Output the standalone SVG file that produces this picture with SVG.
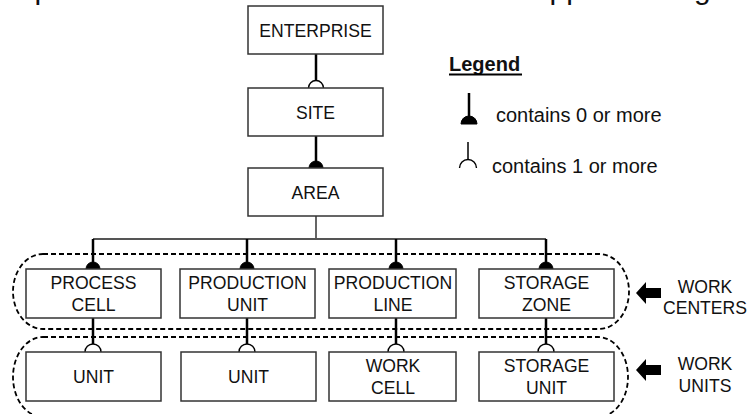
<svg xmlns="http://www.w3.org/2000/svg" width="749" height="414" viewBox="0 0 749 414">
  <style>
    .box { fill: #fff; stroke: #333; stroke-width: 1.5; }
    .lbl { font-family: "Liberation Sans", Arial, sans-serif; font-size: 17.6px; fill: #111; text-anchor: middle; }
    .leg { font-family: "Liberation Sans", Arial, sans-serif; font-size: 20px; fill: #111; }
    .link { stroke: #000; stroke-width: 2.5; fill: none; }
    .bus { stroke: #555; stroke-width: 1.8; fill: none; }
    .open { fill: #fff; stroke: #000; stroke-width: 1.4; }
    .solid { fill: #000; stroke: #000; stroke-width: 1; }
    .group { fill: none; stroke: #000; stroke-width: 1.8; stroke-dasharray: 5 3; }
    .blk { fill: #000; }
  </style>

  <!-- caption line running off the top edge -->
  <text font-family="Liberation Sans, Arial, sans-serif" font-size="30" fill="#111" y="-1"><tspan x="34.6">p</tspan><tspan x="549.6">pp</tspan><tspan x="694">g</tspan></text>

  <!-- connectors -->
  <g id="connectors">
    <!-- enterprise -> site (1 or more) -->
    <line class="link" x1="316" y1="54" x2="316" y2="81"/>
    <path class="open" d="M308.5,88 A7.5,7.5 0 0 1 323.5,88"/>
    <!-- site -> area (0 or more) -->
    <line class="link" x1="316" y1="136" x2="316" y2="162"/>
    <path class="solid" d="M309,168 A7,7 0 0 1 323,168 Z"/>
    <!-- area -> bus -->
    <line class="bus" x1="316" y1="216" x2="316" y2="239"/>
    <line class="bus" x1="93" y1="239" x2="546" y2="239"/>
    <!-- bus -> work centers (0 or more) -->
    <g>
      <line class="link" x1="93" y1="239" x2="93" y2="263"/>
      <path class="solid" d="M86,269 A7,7 0 0 1 100,269 Z"/>
      <line class="link" x1="247" y1="239" x2="247" y2="263"/>
      <path class="solid" d="M240,269 A7,7 0 0 1 254,269 Z"/>
      <line class="link" x1="396" y1="239" x2="396" y2="263"/>
      <path class="solid" d="M389,269 A7,7 0 0 1 403,269 Z"/>
      <line class="link" x1="546" y1="239" x2="546" y2="263"/>
      <path class="solid" d="M539,269 A7,7 0 0 1 553,269 Z"/>
    </g>
    <!-- work centers -> work units (1 or more) -->
    <g>
      <line class="link" x1="93" y1="318" x2="93" y2="344"/>
      <path class="open" d="M85,352 A8,8 0 0 1 101,352"/>
      <line class="link" x1="247" y1="318" x2="247" y2="344"/>
      <path class="open" d="M239,352 A8,8 0 0 1 255,352"/>
      <line class="link" x1="396" y1="318" x2="396" y2="344"/>
      <path class="open" d="M388,352 A8,8 0 0 1 404,352"/>
      <line class="link" x1="546" y1="318" x2="546" y2="344"/>
      <path class="open" d="M538,352 A8,8 0 0 1 554,352"/>
    </g>
  </g>

  <!-- dashed groupings -->
  <rect class="group" x="13" y="254" width="616" height="75" rx="30" ry="37.5"/>
  <rect class="group" x="13" y="337" width="615" height="80" rx="30" ry="40"/>

  <!-- hierarchy nodes -->
  <g id="enterprise">
    <rect class="box" x="248" y="6" width="135" height="48"/>
    <text class="lbl" x="315.5" y="37">ENTERPRISE</text>
  </g>
  <g id="site">
    <rect class="box" x="248" y="88" width="135" height="48"/>
    <text class="lbl" x="315.5" y="119">SITE</text>
  </g>
  <g id="area">
    <rect class="box" x="248" y="168" width="135" height="48"/>
    <text class="lbl" x="315.5" y="199">AREA</text>
  </g>

  <g id="process-cell">
    <rect class="box" x="26" y="269" width="135" height="49"/>
    <text class="lbl" x="93.5" y="289">PROCESS</text>
    <text class="lbl" x="93.5" y="311">CELL</text>
  </g>
  <g id="production-unit">
    <rect class="box" x="180" y="269" width="135" height="49"/>
    <text class="lbl" x="247.5" y="289">PRODUCTION</text>
    <text class="lbl" x="247.5" y="311">UNIT</text>
  </g>
  <g id="production-line">
    <rect class="box" x="329" y="269" width="127" height="49"/>
    <text class="lbl" x="393" y="289">PRODUCTION</text>
    <text class="lbl" x="393" y="311">LINE</text>
  </g>
  <g id="storage-zone">
    <rect class="box" x="479" y="269" width="135" height="49"/>
    <text class="lbl" x="546.5" y="289">STORAGE</text>
    <text class="lbl" x="546.5" y="311">ZONE</text>
  </g>

  <g id="unit-1">
    <rect class="box" x="26" y="352" width="135" height="49"/>
    <text class="lbl" x="93.5" y="383">UNIT</text>
  </g>
  <g id="unit-2">
    <rect class="box" x="181" y="352" width="135" height="49"/>
    <text class="lbl" x="248.5" y="383">UNIT</text>
  </g>
  <g id="work-cell">
    <rect class="box" x="329" y="352" width="127" height="49"/>
    <text class="lbl" x="393" y="372">WORK</text>
    <text class="lbl" x="393" y="394">CELL</text>
  </g>
  <g id="storage-unit">
    <rect class="box" x="479" y="352" width="135" height="49"/>
    <text class="lbl" x="546.5" y="372">STORAGE</text>
    <text class="lbl" x="546.5" y="394">UNIT</text>
  </g>

  <!-- level tags -->
  <g id="work-centers-tag">
    <polygon class="blk" points="636,293 646,282 646,288 661,288 661,298 646,298 646,304"/>
    <text class="lbl" x="705" y="293">WORK</text>
    <text class="lbl" x="705" y="314">CENTERS</text>
  </g>
  <g id="work-units-tag">
    <polygon class="blk" points="636,370 646,359 646,365 661,365 661,375 646,375 646,381"/>
    <text class="lbl" x="705" y="370">WORK</text>
    <text class="lbl" x="705" y="392">UNITS</text>
  </g>

  <!-- legend -->
  <g id="legend">
    <text class="leg" x="449" y="71" font-size="17.5" font-weight="bold">Legend</text>
    <line x1="449" y1="74.5" x2="522" y2="74.5" stroke="#000" stroke-width="1.8"/>
    <line class="link" x1="469" y1="93" x2="469" y2="118"/>
    <path class="solid" d="M461,124 A8,8 0 0 1 477,124 Z"/>
    <text class="leg" x="496" y="122">contains 0 or more</text>
    <line x1="468" y1="142" x2="468" y2="161" stroke="#000" stroke-width="1.5"/>
    <path class="open" d="M459.5,168 A8.5,8.5 0 0 1 476.5,168" fill="none"/>
    <text class="leg" x="492" y="173">contains 1 or more</text>
  </g>
</svg>
